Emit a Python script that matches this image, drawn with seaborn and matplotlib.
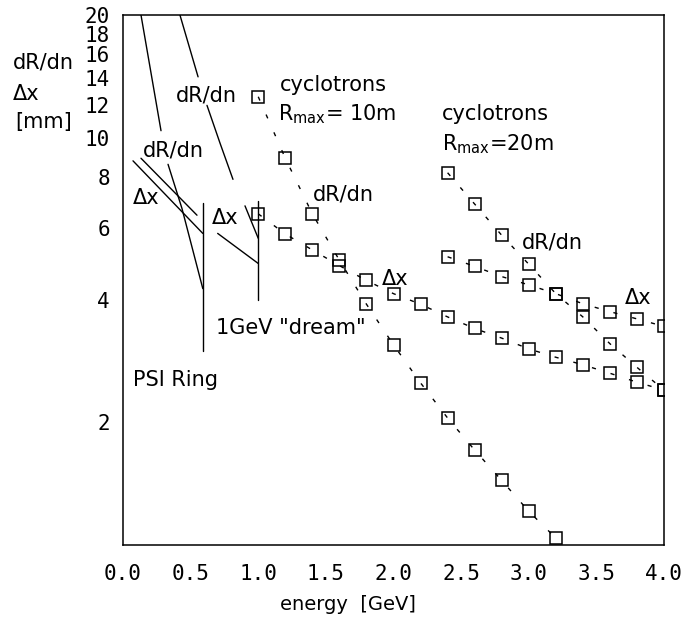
import matplotlib
matplotlib.use("Agg")
import matplotlib.pyplot as plt
from matplotlib.ticker import NullFormatter, FixedLocator
import numpy as np
import pandas as pd
import seaborn as sns

# ---------------- data ----------------
# cyclotrons R_max = 10 m
cyc10_energy_drdn = [1.0, 1.2, 1.4, 1.6, 1.8, 2.0, 2.2, 2.4, 2.6, 2.8, 3.0, 3.2]
cyc10_drdn = [12.6, 8.9, 6.5, 5.0, 3.9, 3.1, 2.5, 2.05, 1.71, 1.44, 1.21, 1.04]
cyc10_energy_dx = [1.0, 1.2, 1.4, 1.6, 1.8, 2.0, 2.2, 2.4, 2.6, 2.8, 3.0, 3.2, 3.4, 3.6, 3.8, 4.0]
cyc10_dx = [6.5, 5.8, 5.3, 4.85, 4.46, 4.14, 3.9, 3.63, 3.40, 3.22, 3.03, 2.89, 2.77, 2.64, 2.51, 2.40]
# cyclotrons R_max = 20 m
cyc20_energy = [2.4, 2.6, 2.8, 3.0, 3.2, 3.4, 3.6, 3.8, 4.0]
cyc20_drdn = [8.2, 6.87, 5.76, 4.89, 4.14, 3.63, 3.12, 2.73, 2.40]
cyc20_dx = [5.1, 4.83, 4.56, 4.35, 4.14, 3.91, 3.74, 3.59, 3.44]

# PSI Ring curves (segment id marks gaps left for labels)
psi_drdn_energy = [0.133, 0.281, 0.333, 0.436, 0.59]
psi_drdn = [20.0, 10.4, 8.6, 6.7, 4.26]
psi_drdn_seg = [0, 0, 1, 1, 1]
psi_upper_energy = [0.133, 0.547]
psi_upper = [8.9, 6.45]
psi_lower_energy = [0.074, 0.59]
psi_lower = [8.77, 5.82]
psi_limit_energy = [0.59, 0.59]
psi_limit = [3.0, 6.9]

# 1 GeV "dream" curves
gev_drdn_energy = [0.421, 0.555, 0.621, 0.717, 0.813, 0.902, 1.0]
gev_drdn = [20.0, 14.1, 12.0, 9.7, 7.9, 6.8, 5.66]
gev_drdn_seg = [0, 0, 1, 1, 1, 2, 2]
gev_dx_energy = [0.70, 1.0]
gev_dx = [5.82, 4.91]
gev_limit_energy = [1.0, 1.0]
gev_limit = [4.0, 7.0]

x_ticks = [0.0, 0.5, 1.0, 1.5, 2.0, 2.5, 3.0, 3.5, 4.0]
x_tick_labels = ["0.0", "0.5", "1.0", "1.5", "2.0", "2.5", "3.0", "3.5", "4.0"]
x_minor = [0.1, 0.2, 0.3, 0.4, 0.6, 0.7, 0.8, 0.9, 1.1, 1.2, 1.3, 1.4, 1.6, 1.7, 1.8, 1.9,
           2.1, 2.2, 2.3, 2.4, 2.6, 2.7, 2.8, 2.9, 3.1, 3.2, 3.3, 3.4, 3.6, 3.7, 3.8, 3.9]
y_ticks = [2, 4, 6, 8, 10, 12, 14, 16, 18, 20]
y_tick_labels = ["2", "4", "6", "8", "10", "12", "14", "16", "18", "20"]
y_minor = [3, 5, 7, 9, 11, 13, 15, 17, 19]

# ---------------- figure ----------------
sns.set_theme(style="white")
plt.rcParams["font.family"] = ["DejaVu Sans"]
plt.rcParams["text.color"] = "black"
plt.rcParams["xtick.color"] = "black"
plt.rcParams["ytick.color"] = "black"
plt.rcParams["axes.edgecolor"] = "black"
plt.rcParams["axes.linewidth"] = 1.1

fig = plt.figure(figsize=(6.98, 6.18), dpi=100)
ax = fig.add_axes([123 / 698, 1 - 545 / 618, 541 / 698, 530 / 618])

dash = (0, (3, 11))
mk = dict(marker="s", markersize=8, markerfacecolor="none", markeredgecolor="black",
          markeredgewidth=1.1)

for ex, ey in [(cyc10_energy_drdn, cyc10_drdn), (cyc10_energy_dx, cyc10_dx),
               (cyc20_energy, cyc20_drdn), (cyc20_energy, cyc20_dx)]:
    d = pd.DataFrame({"E": ex, "v": ey})
    sns.lineplot(data=d, x="E", y="v", ax=ax, color="black", linewidth=1.0,
                 linestyle=dash, estimator=None, sort=False, **mk)

solid = [
    (psi_drdn_energy, psi_drdn, psi_drdn_seg),
    (psi_upper_energy, psi_upper, [0, 0]),
    (psi_lower_energy, psi_lower, [0, 0]),
    (psi_limit_energy, psi_limit, [0, 0]),
    (gev_drdn_energy, gev_drdn, gev_drdn_seg),
    (gev_dx_energy, gev_dx, [0, 0]),
    (gev_limit_energy, gev_limit, [0, 0]),
]
for ex, ey, seg in solid:
    d = pd.DataFrame({"E": ex, "v": ey, "seg": seg})
    sns.lineplot(data=d, x="E", y="v", units="seg", estimator=None, sort=False,
                 ax=ax, color="black", linewidth=1.0)

ax.set_yscale("log")
ax.set_xlim(0, 4)
ax.set_ylim(1, 20)
ax.set_xticks(x_ticks)
ax.set_xticklabels(x_tick_labels, fontfamily="DejaVu Sans Mono", fontsize=15, color="black")
ax.xaxis.set_minor_locator(FixedLocator(x_minor))
ax.set_yticks(y_ticks)
ax.set_yticklabels(y_tick_labels, fontfamily="DejaVu Sans Mono", fontsize=15, color="black")
ax.yaxis.set_minor_locator(FixedLocator(y_minor))
ax.yaxis.set_minor_formatter(NullFormatter())
ax.tick_params(axis="x", which="major", direction="out", length=8, width=1.0, pad=6, colors="black")
ax.tick_params(axis="x", which="minor", direction="out", length=4, width=1.0, colors="black")
ax.tick_params(axis="y", which="major", direction="out", length=7.5, width=1.0, pad=2, colors="black")
ax.tick_params(axis="y", which="minor", direction="out", length=6, width=1.0, colors="black")
ax.set_xlabel("")
ax.set_ylabel("")
for s in ax.spines.values():
    s.set_visible(True)
    s.set_color("black")

fs = 15
txt = dict(fontsize=fs, color="black", ha="left", va="center")
ax.text(0.148, 9.28, "dR/dn", **txt)
ax.text(0.074, 7.11, "\u0394x", **txt)
ax.text(0.392, 12.7, "dR/dn", **txt)
ax.text(0.658, 6.34, "\u0394x", **txt)
ax.text(0.074, 2.54, "PSI Ring", **txt)
ax.text(0.688, 3.41, '1GeV "dream"', **txt)
ax.text(1.161, 13.5, "cyclotrons", **txt)
ax.text(1.146, 11.0, r"$\mathregular{R_{max}}$= 10m", fontsize=fs, color="black",
        ha="left", va="baseline")
ax.text(1.405, 7.27, "dR/dn", **txt)
ax.text(1.915, 4.51, "\u0394x", **txt)
ax.text(2.359, 11.4, "cyclotrons", **txt)
ax.text(2.359, 9.28, r"$\mathregular{R_{max}}$=20m", fontsize=fs, color="black",
        ha="left", va="baseline")
ax.text(2.95, 5.53, "dR/dn", **txt)
ax.text(3.712, 4.03, "\u0394x", **txt)

fig.text(13 / 698, 1 - 62 / 618, "dR/dn", fontsize=fs, color="black", ha="left", va="center")
fig.text(13 / 698, 1 - 94 / 618, "\u0394x", fontsize=fs, color="black", ha="left", va="center")
fig.text(15 / 698, 1 - 122 / 618, "[mm]", fontsize=fs, color="black", ha="left", va="center")
fig.text(348 / 698, 1 - 605 / 618, "energy  [GeV]", fontsize=14, color="black",
         ha="center", va="center")

fig.savefig("out.png", dpi=100, facecolor="white")
